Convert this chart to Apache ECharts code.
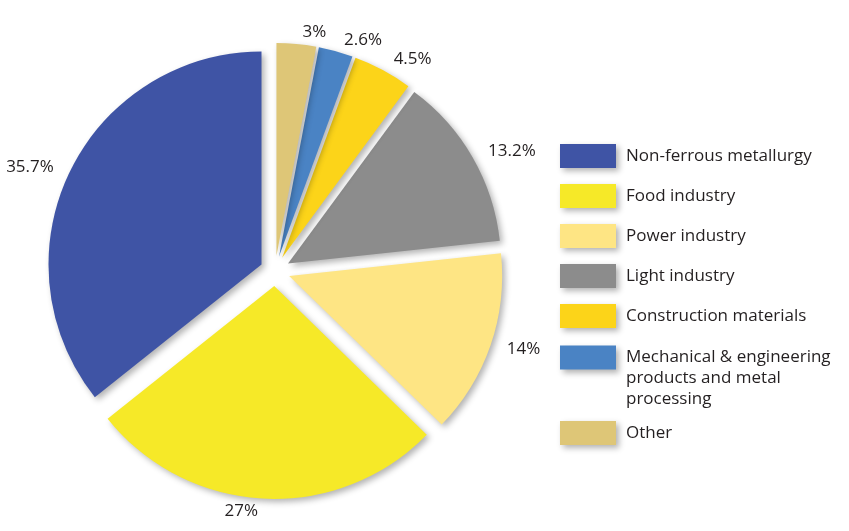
<!DOCTYPE html>
<html><head><meta charset="utf-8">
<script src="https://cdn.jsdelivr.net/npm/echarts@6/dist/echarts.min.js"></script>
<style>html,body{margin:0;padding:0;background:#fff}#c{width:849px;height:531px}</style>
</head><body><div id="c"></div>
<script>
const categories = ['Non-ferrous metallurgy','Food industry','Power industry','Light industry','Construction materials','Mechanical & engineering\nproducts and metal\nprocessing','Other'];
const values = [35.7, 27, 14, 13.2, 4.5, 2.6, 3];
const colors = ['#3F54A5','#F6E928','#FEE584','#8C8C8C','#FCD419','#4A83C4','#DEC677'];
const FONT = 'Open Sans';
const FS = 17;
const chart = echarts.init(document.getElementById('c'));
const shadow = {shadowBlur: 6, shadowColor: 'rgba(0,0,0,0.3)', shadowOffsetX: 3, shadowOffsetY: 3};
const legendBase = {
  orient: 'vertical', left: 560, padding: 0, itemWidth: 56, itemHeight: 24, itemGap: 16,
  icon: 'rect', selectedMode: false,
  itemStyle: Object.assign({}, shadow),
  textStyle: {fontFamily: FONT, fontSize: FS, color: '#231F20', lineHeight: 21, padding: [0,0,0,5]}
};
chart.setOption({
  animation: false,
  legend: [
    Object.assign({}, legendBase, {top: 144, data: categories.slice(0,5)}),
    Object.assign({}, legendBase, {top: 305, data: [categories[5]], formatter: n => '\n\n' + n}),
    Object.assign({}, legendBase, {top: 421, data: [categories[6]]})
  ],
  series: [{
    type: 'pie',
    center: [275, 271],
    radius: 213,
    startAngle: 90,
    clockwise: false,
    selectedMode: 'multiple',
    selectedOffset: 15,
    avoidLabelOverlap: false,
    emphasis: {disabled: true},
    itemStyle: Object.assign({}, shadow),
    label: {show: true, position: 'outside', formatter: p => p.value + '%',
      fontFamily: FONT, fontSize: FS, color: '#231F20'},
    labelLine: {show: false, length: 12, length2: 0},
    data: categories.map((n, i) => ({name: n, value: values[i], selected: true, itemStyle: {color: colors[i]}}))
  }]
});
</script></body></html>
